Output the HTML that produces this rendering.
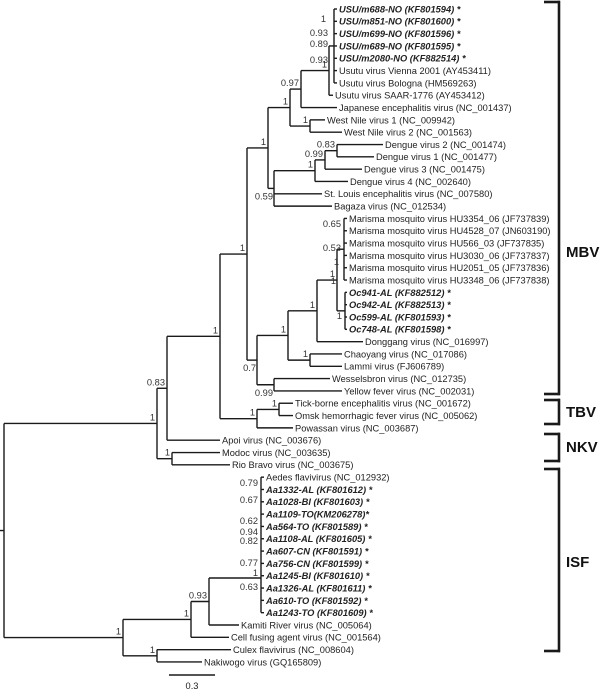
<!DOCTYPE html>
<html><head><meta charset="utf-8"><style>
html,body{margin:0;padding:0;background:#fff;}
svg{display:block;font-family:"Liberation Sans",Arial,sans-serif;}
</style></head><body>
<svg id="tree" width="600" height="689" viewBox="0 0 600 689" xmlns="http://www.w3.org/2000/svg"></svg>
<script>
const leafNames = [
"USU/m688-NO (KF801594) *","USU/m851-NO (KF801600) *","USU/m699-NO (KF801596) *","USU/m689-NO (KF801595) *","USU/m2080-NO (KF882514) *",
"Usutu virus Vienna 2001 (AY453411)","Usutu virus Bologna (HM569263)","Usutu virus SAAR-1776 (AY453412)",
"Japanese encephalitis virus (NC_001437)","West Nile virus 1 (NC_009942)","West Nile virus 2 (NC_001563)",
"Dengue virus 2 (NC_001474)","Dengue virus 1 (NC_001477)","Dengue virus 3 (NC_001475)","Dengue virus 4 (NC_002640)",
"St. Louis encephalitis virus (NC_007580)","Bagaza virus (NC_012534)",
"Marisma mosquito virus HU3354_06 (JF737839)","Marisma mosquito virus HU4528_07 (JN603190)","Marisma mosquito virus HU566_03 (JF737835)",
"Marisma mosquito virus HU3030_06 (JF737837)","Marisma mosquito virus HU2051_05 (JF737836)","Marisma mosquito virus HU3348_06 (JF737838)",
"Oc941-AL (KF882512) *","Oc942-AL (KF882513) *","Oc599-AL (KF801593) *","Oc748-AL (KF801598) *",
"Donggang virus (NC_016997)","Chaoyang virus (NC_017086)","Lammi virus (FJ606789)","Wesselsbron virus (NC_012735)","Yellow fever virus (NC_002031)",
"Tick-borne encephalitis virus (NC_001672)","Omsk hemorrhagic fever virus (NC_005062)","Powassan virus (NC_003687)",
"Apoi virus (NC_003676)","Modoc virus (NC_003635)","Rio Bravo virus (NC_003675)",
"Aedes flavivirus (NC_012932)","Aa1332-AL (KF801612) *","Aa1028-BI (KF801603) *","Aa1109-TO(KM206278)*","Aa564-TO (KF801589) *",
"Aa1108-AL (KF801605) *","Aa607-CN (KF801591) *","Aa756-CN (KF801599) *","Aa1245-BI (KF801610) *","Aa1326-AL (KF801611) *",
"Aa610-TO (KF801592) *","Aa1243-TO (KF801609) *","Kamiti River virus (NC_005064)","Cell fusing agent virus (NC_001564)",
"Culex flavivirus (NC_008604)","Nakiwogo virus (GQ165809)"];
const boldLeaves = [0,1,2,3,4,23,24,25,26,39,40,41,42,43,44,45,46,47,48,49];
const innerSupports = [["1",326,22],["0.93",328,36],["0.89",328,47],["0.93",328,63],
 ["0.65",341,227],["0.53",341,251],["1",339,265],["1",336,284],["1",342,319],
 ["0.79",258,486],["0.67",258,503],["0.62",258,524],["0.94",258,535],["0.82",258,544],["0.77",258,566],["1",258,576],["0.63",258,590]];
const L=(i,t)=>({leaf:i,tip:t});
const N=(x,sup,children,opt)=>Object.assign({x,sup,children},opt||{});
const tree = N(4,null,[
 N(157,"1",[
  N(167,"0.83",[
   N(220,"1",[
    N(247,"1",[
     N(268,"1",[
      N(290,"1",[
       N(301,"0.97",[
        N(329,"1",[ N(334,null,[L(0,337),L(1,337),L(2,337),L(3,337),L(4,337),L(5,337),L(6,337)]), L(7,333)]),
        L(8,337)]),
       N(310,"1",[L(9,325),L(10,342)])]),
      N(274,"0.59",[
       N(315,"1",[ N(325,"0.99",[ N(337,"0.83",[L(11,383),L(12,374)]), L(13,362)]), L(14,348)]),
       L(15,322),L(16,332)],{below:true})]),
     N(257,"0.7",[
      N(288,"1",[
       N(317,"1",[
        N(337,"1",[ N(344,null,[L(17,347),L(18,347),L(19,347),L(20,347),L(21,347),L(22,347)]),
                    N(345,null,[L(23,347),L(24,347),L(25,347),L(26,347)]) ]),
        L(27,363)]),
       N(310,"1",[L(28,342),L(29,342)])]),
      N(274,"0.99",[L(30,330),L(31,342)],{below:true})],{below:true})]),
    N(257,"1",[ N(279,"1",[L(32,293),L(33,293)]), L(34,293)])]),
   L(35,220)]),
  N(172,"1",[L(36,220),L(37,230)])]),
 N(123,"1",[
  N(191,"1",[
   N(209,"0.93",[ N(261,null,[L(38,264),L(39,264),L(40,264),L(41,264),L(42,264),L(43,264),L(44,264),L(45,264),L(46,264),L(47,264),L(48,264),L(49,264)],{yOver:578}), L(50,239)]),
   L(51,229)]),
  N(157,"1",[L(52,231),L(53,202)])])
]);
const svg=document.getElementById('tree');
const NS="http://www.w3.org/2000/svg";
const y0=9, step=12.32, FS=9.3;
function ly(i){return y0+i*step;}
function line(x1,y1,x2,y2,w){const l=document.createElementNS(NS,'line');
 l.setAttribute('x1',x1);l.setAttribute('y1',y1);l.setAttribute('x2',x2);l.setAttribute('y2',y2);
 l.setAttribute('stroke','#1a1a1a');l.setAttribute('stroke-width',w||1.4);
 
 
 svg.appendChild(l);}
function text(s,x,y,opt){const t=document.createElementNS(NS,'text');
 t.setAttribute('x',x);t.setAttribute('y',y);t.setAttribute('font-size',opt.size||FS);
 t.setAttribute('fill',opt.fill||'#222');
 if(opt.anchor)t.setAttribute('text-anchor',opt.anchor);
 if(opt.bold)t.setAttribute('font-weight','bold');
 if(opt.italic)t.setAttribute('font-style','italic');
 
 
 t.textContent=s;svg.appendChild(t);}
function layout(n){
 if(n.leaf!==undefined){n.y=ly(n.leaf);return n.y;}
 const ys=n.children.map(layout);
 n.y=n.yOver!==undefined?n.yOver:(ys[0]+ys[ys.length-1])/2;
 return n.y;}
layout(tree);
function draw(n,px){
 if(px!==null) line(px,n.y,n.leaf!==undefined?n.tip:n.x,n.y);
 if(n.leaf!==undefined){
  const b=boldLeaves.includes(n.leaf);
  text(leafNames[n.leaf],n.tip+2,n.y+3.4,{bold:b,italic:b,fill:'#222',name:'leaf-label'});
  return;}
 const ys=n.children.map(c=>c.y);
 line(n.x,Math.min(...ys,n.y),n.x,Math.max(...ys,n.y));
 if(n.sup&&px!==null){
  if(n.below) text(n.sup,n.x-1,n.y+11,{anchor:'end',fill:'#333',name:'support-value'});
  else text(n.sup,n.x-2,n.y-3,{anchor:'end',fill:'#333',name:'support-value'});}
 n.children.forEach(c=>draw(c,n.x));}
line(0,tree.y,tree.x,tree.y);
draw(tree,null);
innerSupports.forEach(s=>text(s[0],s[1],s[2],{anchor:'end',fill:'#333',name:'support-value'}));
line(169,675,215,675,1.4);
text("0.3",192,689,{anchor:'middle',fill:'#222',name:'scale-bar-label'});
const brackets=[["MBV",2,394,257],["TBV",400,424,417],["NKV",434,461,452],["ISF",469,651,567]];
brackets.forEach(b=>{
 line(544,b[1],560,b[1],2.6);line(544,b[2],560,b[2],2.6);line(559,b[1]-1.3,559,b[2]+1.3,2.6);
 text(b[0],566,b[3],{bold:true,size:15,fill:'#111',name:'clade-label-'+b[0].toLowerCase()});
});
</script>
</body></html>
